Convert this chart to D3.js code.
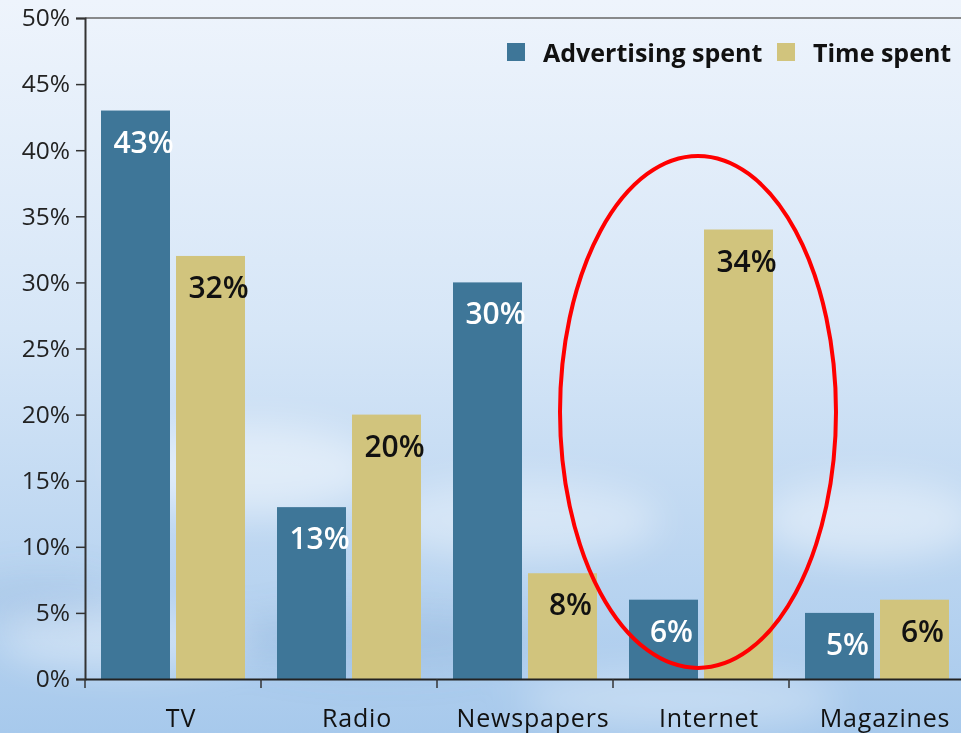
<!DOCTYPE html>
<html>
<head>
<meta charset="utf-8">
<script src="https://cdn.jsdelivr.net/npm/d3@7"></script>
<style>
  html, body { margin: 0; padding: 0; overflow: hidden; }
  svg { display: block; }
</style>
</head>
<body>
<script>
// Share of advertising spend vs. share of time spent, by medium
const categories = ["TV", "Radio", "Newspapers", "Internet", "Magazines"];
const seriesNames = ["Advertising spent", "Time spent"];
const advertising = [43, 13, 30, 6, 5];
const timeSpent = [32, 20, 8, 34, 6];
const yTicks = [0, 5, 10, 15, 20, 25, 30, 35, 40, 45, 50];
const highlighted = "Internet";

const W = 961, H = 733;
const margin = { left: 85, right: -4, top: 18, bottom: 54 };
const colors = { "Advertising spent": "#3e7698", "Time spent": "#d1c47d" };
const FONT = "'Open Sans', 'DejaVu Sans', sans-serif";

const svg = d3.select("body").append("svg").attr("width", W).attr("height", H);
const defs = svg.append("defs");

// sky backdrop
const grad = defs.append("linearGradient").attr("id", "sky").attr("x1", 0).attr("y1", 0).attr("x2", 0).attr("y2", 1);
grad.append("stop").attr("offset", "0%").attr("stop-color", "#eef4fc");
grad.append("stop").attr("offset", "45%").attr("stop-color", "#d6e6f7");
grad.append("stop").attr("offset", "100%").attr("stop-color", "#a7c9ec");
svg.append("rect").attr("width", W).attr("height", H).attr("fill", "url(#sky)");

const blur = defs.append("filter").attr("id", "soft").attr("x", "-50%").attr("y", "-50%").attr("width", "200%").attr("height", "200%");
blur.append("feGaussianBlur").attr("stdDeviation", 18);
const clouds = svg.append("g").attr("filter", "url(#soft)");
[[250, 470, 130, 45, 0.45], [520, 520, 140, 40, 0.35], [870, 520, 110, 40, 0.4], [120, 640, 120, 30, 0.35], [680, 700, 160, 30, 0.3]]
  .forEach(([cx, cy, rx, ry, o]) => clouds.append("ellipse").attr("cx", cx).attr("cy", cy).attr("rx", rx).attr("ry", ry).attr("fill", "#ffffff").attr("opacity", o));
[[380, 640, 150, 30, 0.18], [40, 600, 80, 25, 0.15]]
  .forEach(([cx, cy, rx, ry, o]) => clouds.append("ellipse").attr("cx", cx).attr("cy", cy).attr("rx", rx).attr("ry", ry).attr("fill", "#6f98c8").attr("opacity", o));

const x0 = d3.scaleBand().domain(categories).range([margin.left, W - margin.right]);
const x1 = d3.scaleBand().domain(seriesNames).range([16, 160]).paddingInner(0.08);
const y = d3.scaleLinear().domain([0, 50]).range([H - margin.bottom, margin.top]);

const data = categories.map((c, i) => ({
  category: c,
  values: [
    { series: "Advertising spent", value: advertising[i] },
    { series: "Time spent", value: timeSpent[i] }
  ]
}));

// top frame line
svg.append("line")
  .attr("x1", margin.left).attr("x2", W)
  .attr("y1", y(50)).attr("y2", y(50))
  .attr("stroke", "#666").attr("stroke-width", 1.5);

// bars
const groups = svg.append("g").selectAll("g").data(data).join("g")
  .attr("transform", d => `translate(${x0(d.category)},0)`);

groups.selectAll("rect").data(d => d.values).join("rect")
  .attr("x", d => x1(d.series))
  .attr("width", x1.bandwidth())
  .attr("y", d => y(d.value))
  .attr("height", d => y(0) - y(d.value))
  .attr("fill", d => colors[d.series]);

groups.selectAll("text").data(d => d.values).join("text")
  .attr("x", d => x1(d.series) + x1.bandwidth() / 2 + 8)
  .attr("y", d => y(d.value) + 42)
  .attr("text-anchor", "middle")
  .attr("font-family", FONT)
  .attr("font-size", 30)
  .attr("font-weight", 600)
  .attr("fill", d => d.series === "Advertising spent" ? "#ffffff" : "#111111")
  .text(d => d.value + "%");

// y axis
const yAxis = svg.append("g")
  .attr("transform", `translate(${margin.left},0)`)
  .call(d3.axisLeft(y).tickValues(yTicks).tickFormat(d => d + "%").tickSize(9).tickPadding(6));
yAxis.select(".domain").attr("stroke", "#333").attr("stroke-width", 2);
yAxis.selectAll(".tick line").attr("stroke", "#333").attr("stroke-width", 1.5);
yAxis.selectAll(".tick text")
  .attr("font-family", FONT).attr("font-size", 24.5).attr("fill", "#222");

// x axis
const xAxis = svg.append("g")
  .attr("transform", `translate(0,${y(0)})`)
  .call(d3.axisBottom(x0).tickSize(0).tickPadding(30));
xAxis.select(".domain").attr("stroke", "#222").attr("stroke-width", 2);
xAxis.selectAll(".tick text")
  .attr("dx", 8)
  .attr("font-family", FONT).attr("font-size", 25).attr("letter-spacing", 0.8).attr("fill", "#111");
xAxis.selectAll(".sep").data(categories).join("line")
  .attr("class", "sep")
  .attr("x1", d => x0(d)).attr("x2", d => x0(d))
  .attr("y1", 0).attr("y2", 9)
  .attr("stroke", "#333").attr("stroke-width", 1.5);

// legend
const legend = svg.append("g");
const legendItems = [
  { name: "Advertising spent", x: 507, tx: 543 },
  { name: "Time spent", x: 777, tx: 813 }
];
legendItems.forEach(it => {
  legend.append("rect").attr("x", it.x).attr("y", 43).attr("width", 18).attr("height", 18).attr("fill", colors[it.name]);
  legend.append("text").attr("x", it.tx).attr("y", 62)
    .attr("font-family", FONT).attr("font-size", 25).attr("font-weight", 700).attr("fill", "#111")
    .text(it.name);
});

// highlight ring around the Internet group
const hx = x0(highlighted) + x0.bandwidth() / 2 - 3;
svg.append("ellipse")
  .attr("cx", hx).attr("cy", y(20.2))
  .attr("rx", 138).attr("ry", 256)
  .attr("fill", "none").attr("stroke", "#ff0000").attr("stroke-width", 4);
</script>
</body>
</html>
